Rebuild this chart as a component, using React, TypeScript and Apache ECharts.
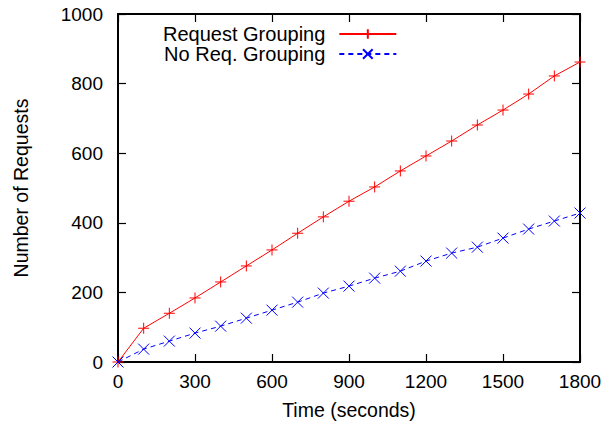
import React, { useEffect, useRef } from "react";
import * as echarts from "echarts";

const times = [0, 100, 200, 300, 400, 500, 600, 700, 800, 900, 1000, 1100, 1200, 1300, 1400, 1500, 1600, 1700, 1800];
const grouping = [0, 97, 140, 184, 230, 276, 322, 370, 417, 462, 503, 549, 592, 635, 681, 724, 770, 822, 862];
const noGrouping = [0, 37, 60, 83, 103, 126, 149, 172, 198, 218, 241, 261, 290, 313, 330, 356, 382, 405, 428];

const FONT = "Liberation Sans, Arial, Helvetica, sans-serif";
const PLUS = "path://M5,0V10M0,5H10";
const CROSS = "path://M0,0L10,10M10,0L0,10";

export default function App() {
  const ref = useRef<HTMLDivElement>(null);
  useEffect(() => {
    document.body.style.margin = "0";
    if (!ref.current) return;
    const chart = echarts.init(ref.current, null, { renderer: "svg" });
    const axisCommon = {
      axisLine: { show: true, onZero: false, lineStyle: { color: "#000", width: 2 } },
      axisTick: { show: true, inside: true, length: 8, lineStyle: { color: "#000", width: 1.2 } },
      splitLine: { show: false },
    };
    const fmt = (v: number) => String(v);
    chart.setOption({
      animation: false,
      textStyle: { fontFamily: FONT },
      grid: { left: 118, right: 35, top: 14, bottom: 60, containLabel: false, outerBoundsMode: "none" },
      legend: {
        orient: "vertical",
        align: "right",
        left: 158,
        top: 19,
        itemWidth: 57,
        itemHeight: 12,
        itemGap: 0,
        textStyle: { fontFamily: FONT, fontSize: 20, color: "#000", padding: [0, 9, 0, 0] },
        data: ["Request Grouping", "No Req. Grouping"],
      },
      xAxis: [
        {
          type: "value",
          min: 0,
          max: 1800,
          interval: 300,
          name: "Time (seconds)",
          nameLocation: "middle",
          nameGap: 38,
          nameTextStyle: { fontSize: 19.5, color: "#000", fontFamily: FONT },
          axisLabel: { fontSize: 19, color: "#000", margin: 10, fontFamily: FONT, formatter: fmt },
          ...axisCommon,
        },
        {
          type: "value",
          position: "top",
          min: 0,
          max: 1800,
          interval: 300,
          axisLabel: { show: false },
          ...axisCommon,
        },
      ],
      yAxis: [
        {
          type: "value",
          min: 0,
          max: 1000,
          interval: 200,
          name: "Number of Requests",
          nameLocation: "middle",
          nameGap: 87,
          nameTextStyle: { fontSize: 19.5, color: "#000", fontFamily: FONT },
          axisLabel: { fontSize: 19, color: "#000", margin: 15, fontFamily: FONT, formatter: fmt },
          ...axisCommon,
        },
        {
          type: "value",
          position: "right",
          min: 0,
          max: 1000,
          interval: 200,
          axisLabel: { show: false },
          ...axisCommon,
        },
      ],
      series: [
        {
          name: "Request Grouping",
          type: "line",
          data: times.map((t, i) => [t, grouping[i]]),
          symbol: PLUS,
          symbolSize: 11,
          showAllSymbol: true,
          lineStyle: { color: "#ff0000", width: 1 },
          itemStyle: { color: "#ff0000", borderColor: "#ff0000", borderWidth: 1 },
        },
        {
          name: "No Req. Grouping",
          type: "line",
          data: times.map((t, i) => [t, noGrouping[i]]),
          symbol: CROSS,
          symbolSize: 11,
          showAllSymbol: true,
          lineStyle: { color: "#0000ff", width: 1, type: [5, 4] },
          itemStyle: { color: "#0000ff", borderColor: "#0000ff", borderWidth: 1 },
        },
      ],
    });
    return () => chart.dispose();
  }, []);
  return <div ref={ref} style={{ width: 615, height: 422 }} />;
}
